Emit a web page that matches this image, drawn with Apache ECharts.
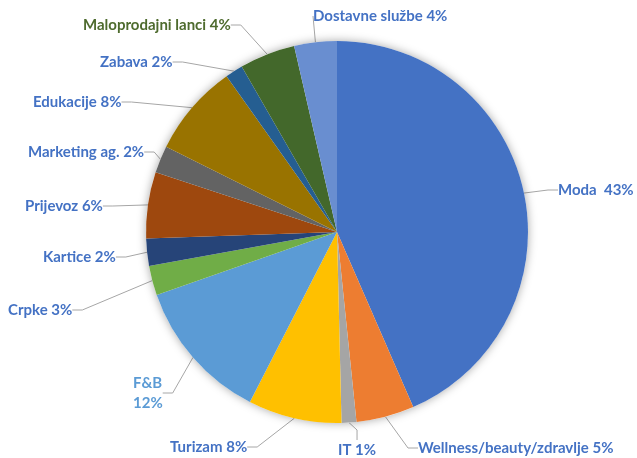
<!DOCTYPE html>
<html>
<head>
<meta charset="utf-8">
<script src="https://cdn.jsdelivr.net/npm/echarts@6/dist/echarts.min.js"></script>
<style>
  html, body { margin: 0; padding: 0; background: #fff; }
  #chart { width: 637px; height: 458px; }
</style>
</head>
<body>
<div id="chart"></div>
<script>
// kategorije, redom kazaljke na satu od vrha
const categories = ['Moda', 'Wellness/beauty/zdravlje', 'IT', 'Turizam', 'F&B', 'Crpke', 'Kartice',
  'Prijevoz', 'Marketing ag.', 'Edukacije', 'Zabava', 'Maloprodajni lanci', 'Dostavne službe']
// udjeli procijenjeni iz kutova isjecaka
const shares = [43.4, 4.9, 1.25, 7.9, 12.1, 2.5, 2.3, 5.6, 2.3, 7.8, 1.5, 4.7, 3.6]
// postoci kako pisu na oznakama
const pctLabels = ['43%', '5%', '1%', '8%', '12%', '3%', '2%', '6%', '2%', '8%', '2%', '4%', '4%']

const colors = ['#4472C4', '#ED7D31', '#A5A5A5', '#FFC000', '#5B9BD5', '#70AD47', '#264478',
  '#9E480E', '#636363', '#997300', '#255E91', '#43682B', '#698ED0']

// gdje stoje oznake (lijevi rub, sredina)
const labelPos = [
  [558, 190], [418, 448], [338, 450], [170, 447], [133, 393], [8, 310], [43, 257],
  [25, 206], [28, 152], [33, 102], [100, 62], [83, 25], [313, 16]
]

const labelColor = (i) => {
  if (i === 4) return '#5B9BD5'
  if (i === 11) return '#4E6B2E'
  return '#4472C4'
}

const total = shares.reduce((a, b) => a + b, 0)

const chart = echarts.init(document.getElementById('chart'))

const options = {
  animation: false,
  series: [
    // sjena ispod cijelog kruga
    {
      type: 'pie',
      silent: true,
      center: [337, 232],
      radius: 191,
      label: { show: false },
      labelLine: { show: false },
      itemStyle: {
        color: '#fff',
        shadowBlur: 10,
        shadowColor: 'rgba(0,0,0,0.35)'
      },
      data: [{ value: total, name: 'bg' }]
    },
    {
      type: 'pie',
      center: [337, 232],
      radius: 191,
      startAngle: 90,
      clockwise: true,
      avoidLabelOverlap: false,
      minShowLabelAngle: 0,
      itemStyle: { borderWidth: 0 },
      label: {
        show: true,
        fontFamily: 'Lato',
        fontWeight: 'bold',
        fontSize: 15,
        lineHeight: 20,
        formatter: (p) => {
          const i = p.dataIndex
          if (i === 0) return categories[i] + '  ' + pctLabels[i]
          if (i === 4) return categories[i] + '\n' + pctLabels[i]
          return categories[i] + ' ' + pctLabels[i]
        }
      },
      labelLine: {
        show: true,
        length: 10,
        length2: 10,
        lineStyle: { color: '#A6A6A6', width: 1 }
      },
      labelLayout: (params) => {
        const pos = labelPos[params.dataIndex]
        return { x: pos[0], y: pos[1], align: 'left', verticalAlign: 'middle' }
      },
      data: categories.map((c, i) => ({
        name: c,
        value: shares[i],
        itemStyle: { color: colors[i] },
        label: { color: labelColor(i) }
      }))
    }
  ]
}

chart.setOption(options)
</script>
</body>
</html>
